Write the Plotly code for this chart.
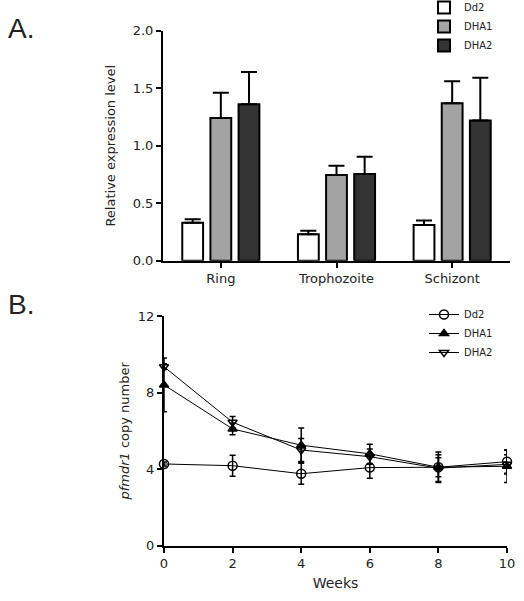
import plotly.graph_objects as go

# ---- Panel A data ----
stages = ["Ring", "Trophozoite", "Schizont"]
dd2_expr = [0.33, 0.23, 0.31]
dd2_expr_err = [0.03, 0.03, 0.04]
dha1_expr = [1.24, 0.745, 1.37]
dha1_expr_err = [0.22, 0.08, 0.19]
dha2_expr = [1.36, 0.755, 1.22]
dha2_expr_err = [0.28, 0.15, 0.37]

# ---- Panel B data ----
weeks = [0, 2, 4, 6, 8, 10]
dd2_copy = [4.27, 4.18, 3.76, 4.08, 4.1, 4.39]
dd2_copy_err = [0.1, 0.55, 0.55, 0.55, 0.5, 0.6]
dha1_copy = [8.4, 6.1, 5.25, 4.8, 4.1, 4.15]
dha1_copy_err = [1.4, 0.3, 0.9, 0.5, 0.8, 0.85]
dha2_copy = [9.35, 6.45, 5.0, 4.65, 4.05, 4.25]
dha2_copy_err = [0.15, 0.3, 0.6, 0.4, 0.7, 0.5]

TXT = "#222222"
FONT = "DejaVu Sans, Liberation Sans, Arial"
W, H = 524, 601

fig = go.Figure()

bar_specs = [
    ("Dd2", dd2_expr, dd2_expr_err, "#ffffff"),
    ("DHA1", dha1_expr, dha1_expr_err, "#a3a3a3"),
    ("DHA2", dha2_expr, dha2_expr_err, "#333333"),
]
for name, vals, errs, col in bar_specs:
    fig.add_trace(go.Bar(
        x=stages, y=vals, name=name, xaxis="x", yaxis="y",
        marker=dict(color=col, line=dict(color="black", width=2)),
        error_y=dict(type="data", array=errs, arrayminus=[0] * len(errs),
                     symmetric=False, color="black", thickness=2, width=8),
        legend="legend",
    ))

line_specs = [
    ("Dd2", dd2_copy, dd2_copy_err, "circle-open", 9),
    ("DHA1", dha1_copy, dha1_copy_err, "triangle-up", 8),
    ("DHA2", dha2_copy, dha2_copy_err, "triangle-down-open", 8),
]
for name, vals, errs, sym, sz in line_specs:
    fig.add_trace(go.Scatter(
        x=weeks, y=vals, name=name, xaxis="x2", yaxis="y2",
        mode="lines+markers",
        line=dict(color="black", width=1),
        marker=dict(symbol=sym, size=sz, color="black",
                    line=dict(color="black", width=1.5)),
        error_y=dict(type="data", array=errs, color="black", thickness=1.5, width=3),
        cliponaxis=False,
        legend="legend2",
    ))

def px_x(p):
    return p / W

def px_y(p):
    return 1 - p / H

axis_common = dict(
    showline=True, linecolor="black", linewidth=2,
    ticks="outside", tickcolor="black", tickwidth=2, ticklen=5,
    showgrid=False, zeroline=False, automargin=False,
    tickfont=dict(family=FONT, size=13, color=TXT),
)

fig.update_layout(
    template="none",
    width=W, height=H,
    margin=dict(l=0, r=0, t=0, b=0, autoexpand=False),
    paper_bgcolor="white", plot_bgcolor="white",
    font=dict(family=FONT, color=TXT),
    barmode="group", bargap=0.27, bargroupgap=0.26,
    xaxis=dict(domain=[px_x(163), px_x(510)], anchor="y", **axis_common),
    yaxis=dict(domain=[px_y(260.7), px_y(30.7)], anchor="x", range=[0, 2.0],
               tickvals=[0, 0.5, 1.0, 1.5, 2.0], tickformat=".1f",
               title=dict(text="Relative expression level", standoff=14,
                          font=dict(family=FONT, size=13, color=TXT)),
               **axis_common),
    xaxis2=dict(domain=[px_x(164), px_x(507)], anchor="y2", range=[0, 10],
                tickvals=weeks,
                title=dict(text="Weeks", standoff=8,
                           font=dict(family=FONT, size=14, color=TXT)),
                **axis_common),
    yaxis2=dict(domain=[px_y(545.7), px_y(316)], anchor="x2", range=[0, 12],
                tickvals=[0, 4, 8, 12],
                title=dict(text="<i>pfmdr1</i> copy number", standoff=5,
                           font=dict(family=FONT, size=13, color=TXT)),
                **axis_common),
    legend=dict(x=px_x(424), y=px_y(-7), xanchor="left", yanchor="top",
                font=dict(family=FONT, size=10, color=TXT), tracegroupgap=0,
                bgcolor="rgba(0,0,0,0)", itemwidth=30),
    legend2=dict(x=px_x(424), y=px_y(300), xanchor="left", yanchor="top",
                 font=dict(family=FONT, size=10, color=TXT), tracegroupgap=0,
                 bgcolor="rgba(0,0,0,0)", itemwidth=30),
    annotations=[
        dict(text="A.", x=px_x(6), y=px_y(29), xref="paper", yref="paper",
             xanchor="left", yanchor="middle", showarrow=False,
             font=dict(family="Liberation Sans, Arial", size=28, color=TXT)),
        dict(text="B.", x=px_x(6), y=px_y(304), xref="paper", yref="paper",
             xanchor="left", yanchor="middle", showarrow=False,
             font=dict(family="Liberation Sans, Arial", size=28, color=TXT)),
    ],
)

fig.write_html(
    "out.html",
    config={"displayModeBar": False},
    post_script="document.body.style.margin='0px';document.body.style.overflow='hidden';",
)
